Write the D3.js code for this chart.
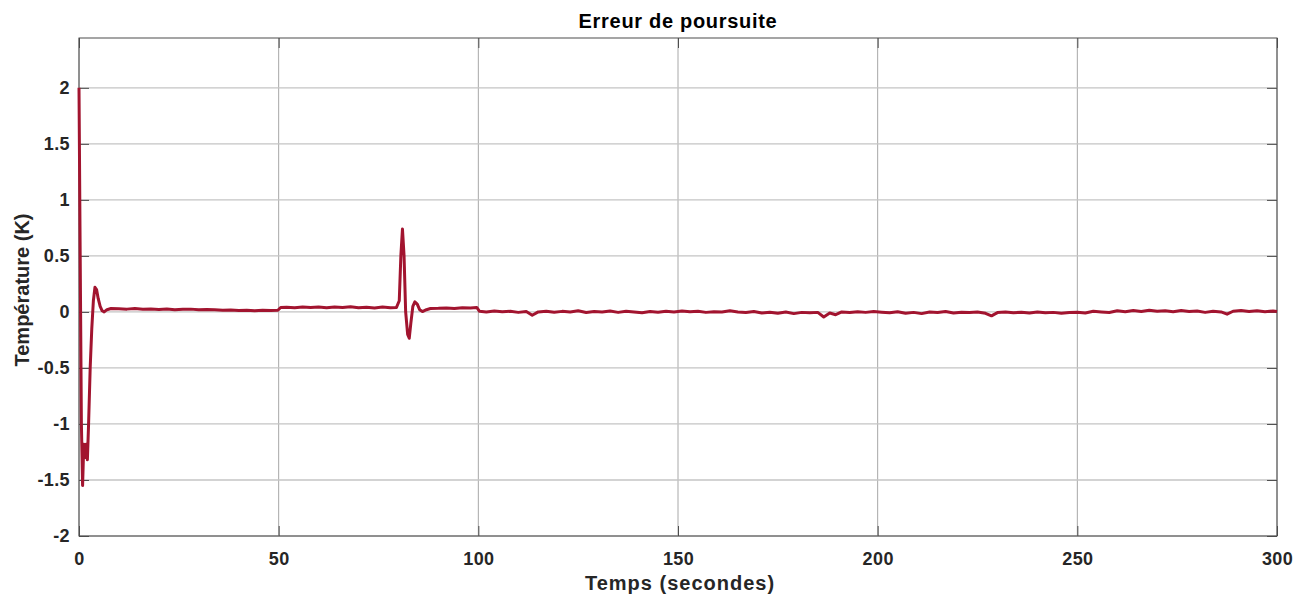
<!DOCTYPE html>
<html>
<head>
<meta charset="utf-8">
<script src="https://cdn.jsdelivr.net/npm/d3@7"></script>
<style>
  body { margin: 0; background: #fff; }
  text { font-family: "Liberation Sans", Arial, sans-serif; }
</style>
</head>
<body>
<script>
// time (s) and tracking error (K)
const temps = [0, 0.3, 0.6, 0.9, 1.2, 1.5, 1.8, 2.1, 2.4, 2.8, 3.2, 3.6, 4.0, 4.4, 4.8, 5.3, 5.8, 6.3, 7, 8,
  10, 12, 14, 16, 18, 20, 22, 24, 26, 28, 30, 32, 34, 36, 38, 40, 42, 44, 46, 48, 49.8,
  50.5, 52, 54, 56, 58, 60, 62, 64, 66, 68, 70, 72, 74, 76, 78, 79.5,
  80.2, 80.6, 81, 81.4, 81.8, 82.3, 82.7, 83.1, 83.6, 84.1, 84.7, 85.3, 86, 87, 88,
  90, 92, 94, 96, 98, 99.6, 100.3,
  102, 104, 106, 108, 110, 112, 113.5, 115, 117, 119, 121, 123, 125, 127, 129, 131, 133, 135, 137, 139,
  141, 143, 145, 147, 149, 151, 153, 155, 157, 159, 161, 163, 165, 167, 169, 171, 173, 175, 177, 179,
  181, 183, 185, 186.5, 188, 189.5, 191, 193, 195, 197, 199, 201, 203, 205, 207, 209, 211, 213, 215, 217,
  219, 221, 223, 225, 227, 228.5, 230, 232, 234, 236, 238, 240, 242, 244, 246, 248, 250, 252, 254, 256,
  258, 260, 262, 264, 266, 268, 270, 272, 274, 276, 278, 280, 282, 284, 286, 287.5, 289, 291, 293, 295,
  297, 299, 300];
const erreur = [2.0, 0.5, -1.0, -1.55, -1.18, -1.3, -1.18, -1.32, -1.0, -0.5, -0.15, 0.1, 0.22, 0.2, 0.12, 0.05, 0.01, 0.0, 0.02, 0.03,
  0.028, 0.025, 0.03, 0.024, 0.027, 0.022, 0.026, 0.02, 0.023, 0.025, 0.019, 0.022, 0.02, 0.016, 0.018, 0.012, 0.015, 0.01, 0.014, 0.012, 0.015,
  0.04, 0.042, 0.038, 0.045, 0.04, 0.043, 0.038, 0.044, 0.04, 0.046, 0.038, 0.042, 0.036, 0.043, 0.038, 0.04,
  0.1, 0.5, 0.74, 0.5, 0.0, -0.2, -0.235, -0.1, 0.05, 0.09, 0.07, 0.02, 0.003, 0.02, 0.03,
  0.032, 0.036, 0.03, 0.038, 0.035, 0.04, 0.005,
  0.0, 0.008, 0.002, 0.006, -0.004, 0.004, -0.03, 0.0, 0.006, -0.003, 0.005, 0.0, 0.01, -0.005, 0.003, 0.0, 0.008, -0.004, 0.006, 0.0,
  -0.008, 0.004, -0.002, 0.006, 0.0, 0.008, 0.002, 0.006, -0.004, 0.002, 0.0, 0.01, 0.0, -0.006, 0.004, -0.01, -0.002, -0.012, 0.0, -0.015,
  -0.004, -0.008, -0.004, -0.045, -0.01, -0.025, 0.0, -0.006, 0.002, -0.004, 0.004, -0.002, -0.008, 0.002, -0.012, -0.004, -0.015, 0.0, -0.006, 0.004,
  -0.01, -0.002, -0.006, 0.0, -0.012, -0.035, -0.006, 0.0, -0.008, -0.002, -0.01, 0.0, -0.008, -0.004, -0.012, -0.006, -0.002, -0.01, 0.006, 0.0,
  -0.005, 0.01, 0.002, 0.012, 0.004, 0.014, 0.006, 0.01, 0.002, 0.012, 0.004, 0.008, -0.004, 0.006, 0.0, -0.02, 0.006, 0.012, 0.004, 0.01,
  0.002, 0.008, 0.004];

const xTicks = [0, 50, 100, 150, 200, 250, 300];
const yTicks = [-2, -1.5, -1, -0.5, 0, 0.5, 1, 1.5, 2];

const w = 1294;
const h = 594;
const pLeft = 79, pRight = 1277, pTop = 38, pBottom = 536;

const xScale = d3.scaleLinear().domain([0, 300]).range([pLeft, pRight]);
const yScale = d3.scaleLinear().domain([-2, 2.445]).range([pBottom, pTop]);

const svg = d3.select("body").append("svg")
  .attr("width", w)
  .attr("height", h);

// grid
svg.append("g")
  .selectAll("line")
  .data(xTicks)
  .enter()
  .append("line")
  .attr("x1", (d) => xScale(d)).attr("x2", (d) => xScale(d))
  .attr("y1", pTop).attr("y2", pBottom)
  .attr("stroke", "#a8a8a8")
  .attr("stroke-width", 1);

svg.append("g")
  .selectAll("line")
  .data(yTicks)
  .enter()
  .append("line")
  .attr("x1", pLeft).attr("x2", pRight)
  .attr("y1", (d) => yScale(d)).attr("y2", (d) => yScale(d))
  .attr("stroke", "#c4c4c4")
  .attr("stroke-width", 1.3);

// axes, ticks pointing inward (box style)
const fmt = (d) => String(d);
svg.append("g")
  .attr("transform", "translate(0," + pBottom + ")")
  .call(d3.axisBottom(xScale).tickValues(xTicks).tickSize(-10).tickPadding(16).tickFormat(fmt))
  .call((g) => g.select(".domain").remove());
svg.append("g")
  .attr("transform", "translate(0," + pTop + ")")
  .call(d3.axisTop(xScale).tickValues(xTicks).tickSize(-10).tickFormat(""))
  .call((g) => g.select(".domain").remove());
svg.append("g")
  .attr("transform", "translate(" + pLeft + ",0)")
  .call(d3.axisLeft(yScale).tickValues(yTicks).tickSize(-10).tickPadding(9).tickFormat(fmt))
  .call((g) => g.select(".domain").remove());
svg.append("g")
  .attr("transform", "translate(" + pRight + ",0)")
  .call(d3.axisRight(yScale).tickValues(yTicks).tickSize(-10).tickFormat(""))
  .call((g) => g.select(".domain").remove());

svg.selectAll(".tick line").attr("stroke", "#4d4d4d");
svg.selectAll(".tick text")
  .attr("fill", "#262626")
  .style("font-size", "18px")
  .style("font-weight", "bold")
  .style("letter-spacing", "0.4px");

svg.append("rect")
  .attr("x", pLeft).attr("y", pTop)
  .attr("width", pRight - pLeft).attr("height", pBottom - pTop)
  .attr("fill", "none")
  .attr("stroke", "#4d4d4d")
  .attr("stroke-width", 1);

// error curve
const line = d3.line()
  .x((d, i) => xScale(temps[i]))
  .y((d) => yScale(d));

svg.append("path")
  .datum(erreur)
  .attr("d", line)
  .attr("fill", "none")
  .attr("stroke", "#A2142F")
  .attr("stroke-width", 3)
  .attr("stroke-linejoin", "round");

// labels
svg.append("text")
  .attr("x", 678).attr("y", 28)
  .attr("text-anchor", "middle")
  .style("font-size", "20px").style("font-weight", "bold")
  .style("letter-spacing", "0.7px")
  .attr("fill", "#000")
  .text("Erreur de poursuite");

svg.append("text")
  .attr("x", 680).attr("y", 589.5)
  .attr("text-anchor", "middle")
  .style("font-size", "20px").style("font-weight", "bold")
  .style("letter-spacing", "1px")
  .attr("fill", "#262626")
  .text("Temps (secondes)");

svg.append("text")
  .attr("transform", "translate(29,290) rotate(-90)")
  .attr("text-anchor", "middle")
  .style("font-size", "20px").style("font-weight", "bold")
  .attr("fill", "#262626")
  .text("Température (K)");
</script>
</body>
</html>
